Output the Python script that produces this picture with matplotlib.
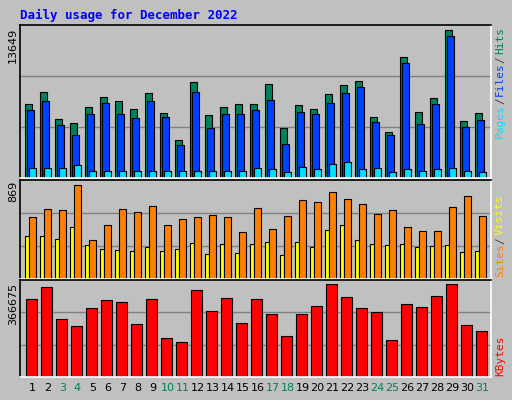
import matplotlib.pyplot as plt
import numpy as np

days = np.arange(1, 32)
weekend = [3, 4, 10, 11, 17, 18, 24, 25, 31]

hits = np.array([6800, 7950, 5450, 5050, 6550, 7500, 7150, 6350, 7850, 6000, 3550, 8850, 5850,
                 6550, 6800, 6800, 8650, 4600, 6700, 6400, 7750, 8550, 9000, 5670, 4250,
                 11150, 6050, 7350, 13649, 5220, 6000])
files = np.array([6270, 7100, 4850, 3930, 5950, 6900, 5950, 5500, 7100, 5600, 3090, 7930, 4660,
                  5950, 5950, 6240, 7160, 3180, 6050, 5950, 6900, 7820, 8370, 5140, 3930,
                  10590, 4970, 6800, 13090, 4750, 5400])
pages = np.array([900, 900, 900, 1170, 680, 680, 680, 680, 620, 620, 680, 680, 620, 680, 620,
                  900, 800, 530, 980, 800, 1270, 1450, 800, 900, 530, 800, 680, 800, 900, 620, 530])

visits = np.array([570, 645, 635, 869, 360, 500, 645, 615, 670, 500, 550, 570, 590, 570, 430,
                   655, 465, 580, 730, 710, 800, 740, 690, 595, 635, 475, 440, 445, 665, 765, 580])
sites = np.array([400, 400, 370, 475, 315, 275, 265, 260, 295, 260, 275, 335, 230, 325, 240,
                  325, 345, 220, 345, 295, 455, 495, 355, 325, 315, 325, 295, 305, 315, 250, 260])

kbytes = np.array([306600, 354600, 230600, 202600, 270600, 302600, 294600, 210600, 306600,
                   155900, 139900, 342600, 262600, 310600, 214600, 306600, 250600, 163900,
                   250600, 278600, 366675, 314600, 270600, 258600, 147900, 286600, 274600,
                   318600, 366675, 206600, 182600])

bg = '#c0c0c0'
fig = plt.figure(figsize=(5.12, 4.0), dpi=100, facecolor=bg)
W, H = 512, 400


def px_axes(x0, y0, x1, y1, ymax):
    ax = fig.add_axes([x0 / W, 1 - y1 / H, (x1 - x0) / W, (y1 - y0) / H])
    ax.set_facecolor(bg)
    ax.set_xlim(0.17, 31.57)
    ax.set_ylim(0, ymax)
    ax.set_xticks([])
    ax.set_yticks([])
    for s in ax.spines.values():
        s.set_linewidth(1.2)
    ax.spines['top'].set_color('black')
    ax.spines['right'].set_color('white')
    ax.spines['bottom'].set_color('white')
    ax.spines['left'].set_color('black')
    for f in (1 / 3, 2 / 3):
        ax.axhline(ymax * f, color='#808080', lw=1, zorder=0)
    return ax


s = days - 0.5
# top panel
ax1 = px_axes(20, 25, 491, 178, 13649 * 1.035)
ax1.bar(s, hits, width=0.5, align='edge', color='#00805c', edgecolor='black', lw=0.8)
ax1.bar(s + 0.13, files, width=0.5, align='edge', color='#0040ff', edgecolor='black', lw=0.8)
ax1.bar(s + 0.27, pages, width=0.47, align='edge', color='#00e0ff', edgecolor='black', lw=0.8)

ax2 = px_axes(20, 180, 491, 279, 869 * 1.05)
ax2.bar(s, sites, width=0.3, align='edge', color='#ffff00', edgecolor='black', lw=0.8)
ax2.bar(s + 0.27, visits, width=0.47, align='edge', color='#ff8000', edgecolor='black', lw=0.8)

ax3 = px_axes(20, 280, 491, 377, 366675 * 1.045)
ax3.bar(s + 0.07, kbytes, width=0.7, align='edge', color='#ff0000', edgecolor='black', lw=0.8)

ax3.set_xticks(days)
ax3.set_xticklabels([str(d) for d in days], fontsize=8, fontfamily='DejaVu Sans')
ax3.tick_params(axis='x', length=0, pad=4)
for lbl, d in zip(ax3.get_xticklabels(), days):
    lbl.set_color('#00805c' if d in weekend else 'black')

fig.text(20 / W, 1 - 15 / H, 'Daily usage for December 2022', color='#0000ff',
         fontsize=9, fontweight='bold', fontfamily='DejaVu Sans Mono', va='center')

# left max labels
for txt, y in (('13649', 28), ('869', 181), ('366675', 283)):
    fig.text(13 / W, 1 - y / H, txt, rotation=90, fontsize=8, va='top', ha='center')


def side_label(parts, y_bottom):
    y = y_bottom
    for t, c in parts:
        fig.text(500 / W, 1 - y / H, t, rotation=90, color=c, fontsize=8,
                 fontfamily='DejaVu Sans Mono', va='bottom', ha='center')
        y -= len(t) * 6.3 + 2


side_label([('Pages', '#00e0ff'), ('/', '#404040'), ('Files', '#0040ff'), ('/', '#404040'),
            ('Hits', '#00805c')], 138)
side_label([('Sites', '#ff8000'), ('/', '#404040'), ('Visits', '#ffff00')], 277)
side_label([('KBytes', '#ff0000')], 376)

fig.savefig('out.png', dpi=100, facecolor=bg)
